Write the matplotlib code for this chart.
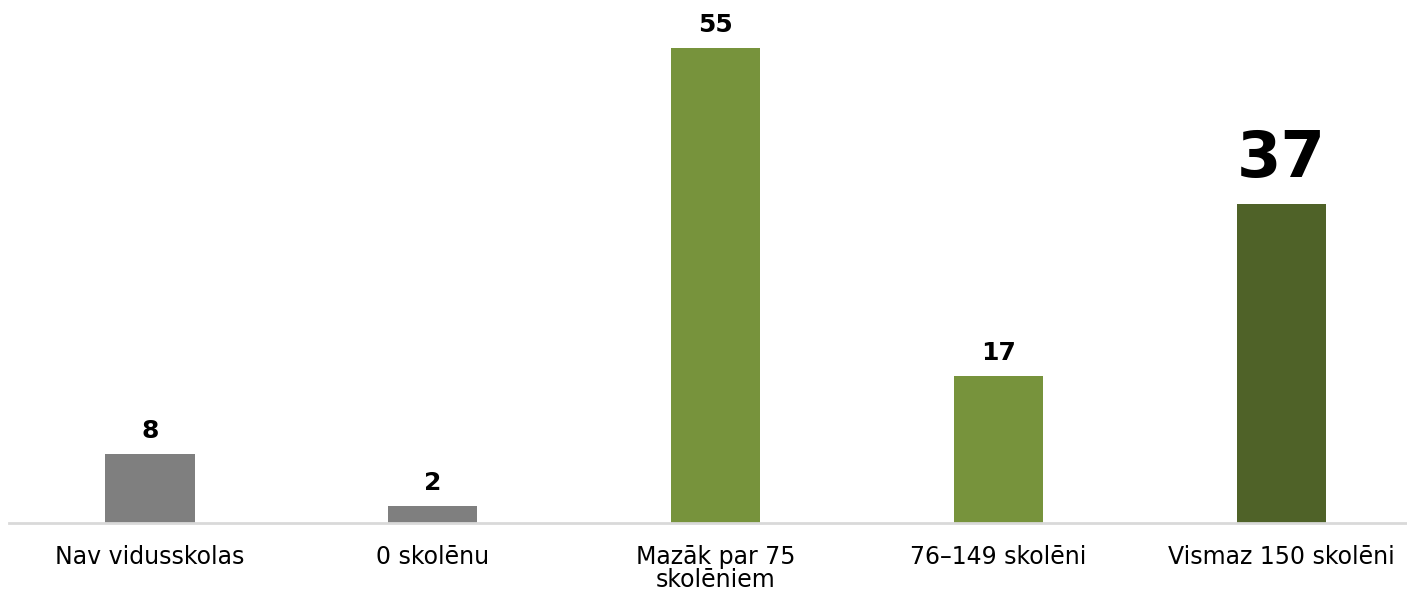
import matplotlib
matplotlib.use("Agg")
import matplotlib.pyplot as plt

categories = ["Nav vidusskolas", "0 skolēnu", "Mazāk par 75\nskolēniem",
              "76–149 skolēni", "Vismaz 150 skolēni"]
values = [8, 2, 55, 17, 37]
colors = ["#7F7F7F", "#7F7F7F", "#77933C", "#77933C", "#4F6228"]
label_sizes = [18, 18, 18, 18, 46]

fig = plt.figure(figsize=(14.07, 5.94), dpi=100)
# axes spans category slots of 283 px, baseline at y=523 px
ax = fig.add_axes([8.6 / 1407, 71 / 594, 1414 / 1407, 518 / 594])
x = range(len(values))
ax.bar(x, values, width=0.315, color=colors)
ax.set_xlim(-0.5, 4.5)
ax.set_ylim(0, 60)

for xi, v, fs in zip(x, values, label_sizes):
    ax.annotate(str(v), (xi, v), xytext=(0, 8 if fs < 30 else 10),
                textcoords="offset points", ha="center", va="bottom",
                fontsize=fs, fontweight="bold", color="black",
                family="DejaVu Sans")

ax.set_xticks(list(x))
ax.set_xticklabels(categories, fontsize=17, linespacing=0.95,
                   family=["Liberation Sans Narrow", "DejaVu Sans"])
ax.tick_params(axis="x", length=0, pad=16)
ax.set_yticks([])
for side in ["top", "left", "right"]:
    ax.spines[side].set_visible(False)
ax.spines["bottom"].set_color("#D9D9D9")
ax.spines["bottom"].set_linewidth(2)

fig.savefig("out.png", dpi=100)
